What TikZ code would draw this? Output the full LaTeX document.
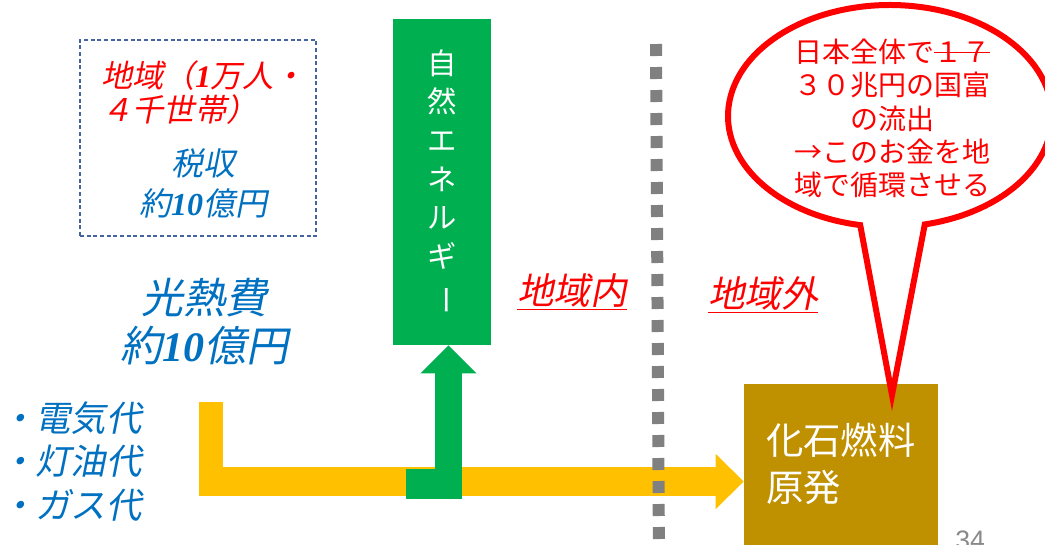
\documentclass[tikz,border=0pt]{standalone}
\usepackage{fontspec}
\setmainfont{Liberation Serif}
\newfontfamily\jp{Noto Sans CJK JP}
\newfontfamily\jpit{Noto Sans CJK JP}[FakeSlant=0.2]
\newfontfamily\numsans{Liberation Sans}
\usetikzlibrary{calc}
\definecolor{redc}{RGB}{255,0,0}
\definecolor{bluec}{RGB}{0,112,192}
\definecolor{greenc}{RGB}{0,176,80}
\definecolor{yellowc}{RGB}{255,192,0}
\definecolor{brownc}{RGB}{191,144,0}
\definecolor{dotgray}{RGB}{128,128,128}
\definecolor{pgray}{RGB}{137,137,137}
\definecolor{boxblue}{RGB}{68,100,160}
\newsavebox\strikebox
\newcommand\strk[1]{\sbox\strikebox{#1}\rlap{\rule[0.33em]{\wd\strikebox}{0.9pt}}\usebox\strikebox}
\newcommand\bi[1]{{\rmfamily\bfseries\itshape #1}}
\begin{document}
\begin{tikzpicture}[x=0.75pt,y=-0.75pt,
  regionbox/.style={draw=boxblue, line width=1pt, dash pattern=on 3pt off 2pt,
    minimum width=177pt, minimum height=147pt, inner sep=0},
  redtxt/.style={text=redc, font=\jpit\fontsize{23.5}{26}\selectfont, align=left, inner sep=0},
  bluetxt/.style={text=bluec, align=center, inner sep=0},
  ebox/.style={fill=greenc, minimum width=73.5pt, minimum height=244.5pt, inner sep=0,
    text=white, align=center, font=\jp\fontsize{22}{29}\selectfont},
  fbox/.style={fill=brownc, minimum width=145.5pt, minimum height=132pt, inner sep=0},
  fostxt/.style={text=white, align=left, inner sep=0, font=\jp\fontsize{28}{35}\selectfont},
  lbl/.style={text=redc, inner sep=0, font=\jpit\fontsize{27.5}{30}\selectfont},
  bubtxt/.style={text=redc, align=center, inner sep=0, font=\jp\fontsize{21}{25}\selectfont},
  yarrow/.style={yellowc},
  garrow/.style={greenc}
]
\useasboundingbox (0,0) rectangle (1045,544);
\clip (0,0) rectangle (1045,544);

% region box
\node[regionbox] (region) at (198,138) {};
\node[redtxt, anchor=west] (pop) at (101,92.5) {地域（\bi{1}万人・\\４千世帯）};
\node[bluetxt, font=\jpit\fontsize{24}{30}\selectfont] (tax) at (203,183) {税収\\約\bi{10}億円};

% cost
\node[bluetxt, font=\jpit\fontsize{31.5}{36}\selectfont] (cost) at (204,322) {光熱費\\約\bi{10}億円};
\node[text=bluec, align=left, inner sep=0, anchor=west, font=\jpit\fontsize{26.5}{32.6}\selectfont] (items) at (0,461.5) {・電気代\\・灯油代\\・ガス代};

% green box
\node[ebox] (ene) at (442,182) {自\\然\\エ\\ネ\\ル\\ギ\\\rotatebox[origin=c]{-90}{ー}};

% fossil box
\node[fbox] (fossil) at (841,472) {};
\node[fostxt, anchor=west] (fostext) at (766,463.5) {化石燃料\\原発};

% labels
\node[lbl] (inside) at (572,292) {\underline{地域内}};
\node[lbl] (outside) at (763,295) {\underline{地域外}};

% yellow arrow
\coordinate (yA) at (211,402);
\coordinate (yB) at (211,496);
\coordinate (yC) at (199,481.5);
\coordinate (yD) at (717,481.5);
\draw[yarrow, line width=18pt] (yA) -- (yB);
\draw[yarrow, line width=21.75pt] (yC) -- (yD);
\fill[yarrow] (fossil.west |- yD) -- ++(-28,-27.5) -- ++(0,55) -- cycle;

% dotted divider
\coordinate (dTop) at (656,44);
\coordinate (dBot) at (659,560);
\draw[dotgray, line width=9pt, dash pattern=on 9pt off 8.25pt] (dTop) -- (dBot);

% green arrow
\coordinate (gA) at (406,484);
\coordinate (gB) at (462,484);
\coordinate (gC) at (448.5,499);
\coordinate (gD) at (448.5,372);
\draw[garrow, line width=22.5pt] (gA) -- (gB);
\draw[garrow, line width=20.25pt] (gC) -- (gD);
\fill[garrow] (ene.south -| gD) -- ++(-28,28) -- ++(56,0) -- cycle;

% speech bubble
\coordinate (bc) at (890,116);
\coordinate (btip) at (892,395);
\filldraw[draw=redc, fill=white, line width=4.5pt, line join=miter, miter limit=20]
  ($(bc)+(100.6:162 and 111)$) arc[start angle=100.6, end angle=437.6, x radius=162, y radius=111]
  -- (btip) -- cycle;
\node[bubtxt] (msg) at (892,118.5) {日本全体で\strk{１７}\\３０兆円の国富\\の流出\\→このお金を地\\域で循環させる};

% page number
\node[text=pgray, font=\numsans\fontsize{20}{24}\selectfont, anchor=base west, inner sep=0] (pnum) at (955,549) {34};
\end{tikzpicture}
\end{document}
